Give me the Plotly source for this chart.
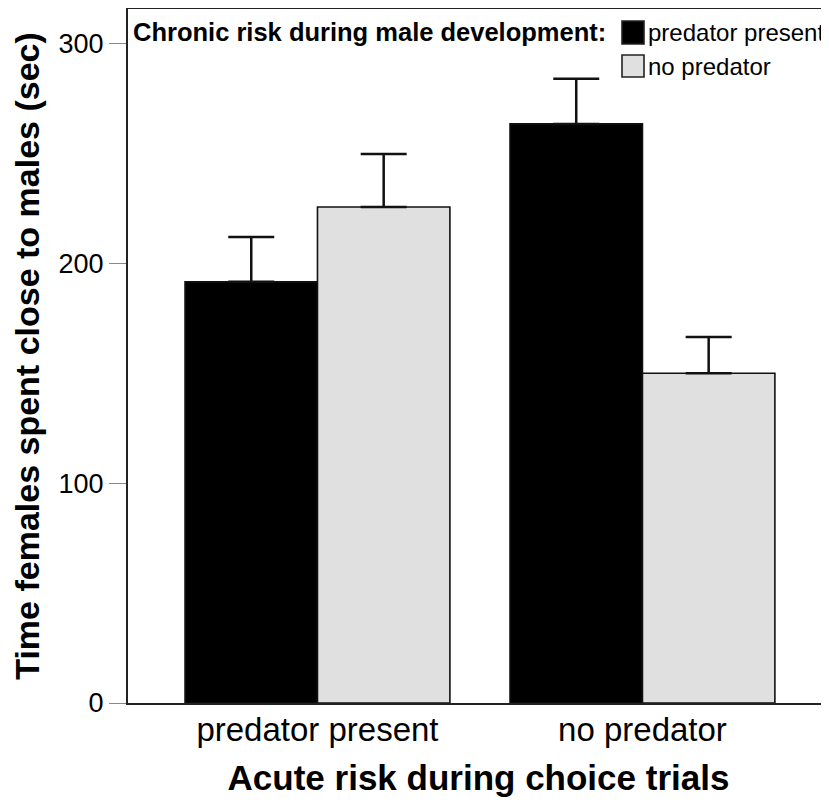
import plotly.graph_objects as go

# ---- data ----
categories = ["predator present", "no predator"]          # acute risk during choice trials
series_names = ["predator present", "no predator"]        # chronic risk during male development
pred_present_means = [191.7, 263.6]
pred_present_err = [20.4, 20.6]
no_pred_means = [225.8, 150.1]
no_pred_err = [24.1, 16.5]
y_ticks = [0, 100, 200, 300]

legend_title = "Chronic risk during male development:"
x_title = "Acute risk during choice trials"
y_title = "Time females spent close to males (sec)"

FONT = "Liberation Sans, Arial, sans-serif"
colors = ["#000000", "#e0e0e0"]

# page has an 8px body margin, so the figure is sized to fit the window
W, H = 821, 795
ML, MR, MT, MB = 120, 0, 1, 100
PW, PH = W - ML - MR, H - MT - MB

fig = go.Figure()
for name, means, errs, col in zip(series_names,
                                  [pred_present_means, no_pred_means],
                                  [pred_present_err, no_pred_err],
                                  colors):
    fig.add_trace(go.Bar(
        x=categories, y=means, name=name,
        marker=dict(color=col, line=dict(color="#111111", width=1.6)),
        error_y=dict(type="data", array=errs, arrayminus=[0] * len(errs),
                     symmetric=False, color="#111111", thickness=2.5, width=23),
    ))

fig.update_layout(
    width=W, height=H,
    margin=dict(l=ML, r=MR, t=MT, b=MB),
    barmode="group", bargap=0.185, bargroupgap=0,
    showlegend=False,
    plot_bgcolor="white", paper_bgcolor="white",
    font=dict(family=FONT, color="#000000"),
)

fig.update_xaxes(
    range=[-0.583, 1.574],
    showline=True, linecolor="#222222", linewidth=2, mirror=True,
    ticks="", showgrid=False, zeroline=False,
    tickfont=dict(size=33, family=FONT),
    title=dict(text=x_title, font=dict(size=35, family=FONT, weight="bold"), standoff=19),
)
try:
    fig.update_xaxes(ticklabelstandoff=-4)
except Exception:
    pass

fig.update_yaxes(
    range=[0, 315.9], tickvals=y_ticks,
    showline=True, linecolor="#222222", linewidth=2,
    ticks="outside", ticklen=17, tickwidth=1, tickcolor="#888888",
    showgrid=False, zeroline=False,
    tickfont=dict(size=27, family=FONT),
    title=dict(text=y_title, font=dict(size=34, family=FONT, weight="bold"), standoff=14),
)

# ---- legend drawn as annotations + swatches (positions in page pixels) ----
OX, OY = 8, 8  # body offset

def px_x(px):
    return (px - OX - ML) / PW

def px_y(py):
    return (OY + MT + PH - py) / PH

fig.add_annotation(x=px_x(608), y=px_y(32), xref="paper", yref="paper",
                   text=legend_title, showarrow=False, xanchor="right", yanchor="middle",
                   font=dict(size=25.5, family=FONT, weight="bold"))
rows = [(21, 44, 32), (55, 77, 66)]
for name, col, (top, bot, mid) in zip(series_names, colors, rows):
    fig.add_shape(type="rect", xref="paper", yref="paper",
                  x0=px_x(622), x1=px_x(644), y0=px_y(bot), y1=px_y(top),
                  fillcolor=col, line=dict(color="#222222", width=1.6))
    fig.add_annotation(x=px_x(646), y=px_y(mid), xref="paper", yref="paper",
                       text=name, showarrow=False, xanchor="left", yanchor="middle",
                       font=dict(size=24, family=FONT))

fig.write_html("out.html")
